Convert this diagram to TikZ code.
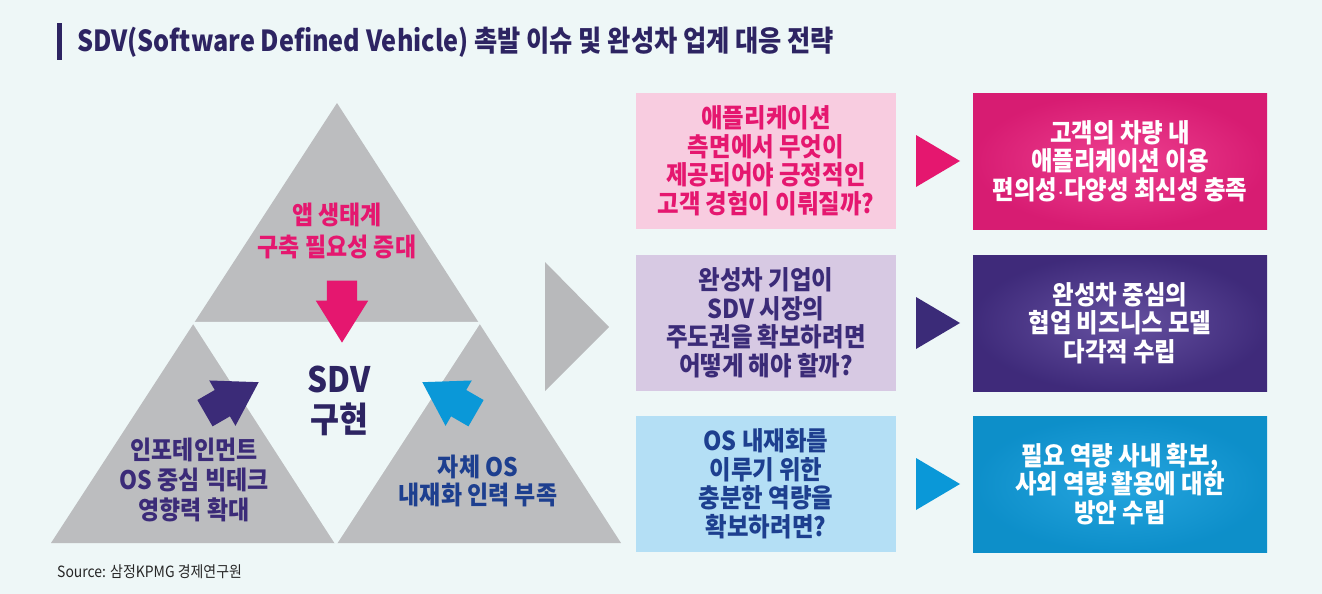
\documentclass[tikz,border=0pt]{standalone}
\usepackage{fontspec}
\setmainfont{Noto Sans CJK KR}[FakeStretch=0.9]
\newfontfamily\titlefont{Noto Sans CJK KR}[FakeStretch=0.87]
\usetikzlibrary{shapes.arrows, calc, positioning}

\definecolor{bgc}{HTML}{EEF7F7}
\definecolor{navy}{HTML}{2D2462}
\definecolor{greyT}{HTML}{BCBDBF}
\definecolor{greyA}{HTML}{B8B9BB}
\definecolor{pinkL}{HTML}{F8CCE0}
\definecolor{pinkD}{HTML}{E5176F}
\definecolor{pinkB}{HTML}{EA1E7C}
\definecolor{lavL}{HTML}{D7C9E3}
\definecolor{purpD}{HTML}{3B2B78}
\definecolor{purpB}{HTML}{4A3290}
\definecolor{blueL}{HTML}{B4DFF5}
\definecolor{blueT}{HTML}{1D3F8F}
\definecolor{blueD}{HTML}{0A98D8}
\definecolor{blueB}{HTML}{0E9BDB}

\newcommand\boxfont{\bfseries\fontsize{26}{28.5}\selectfont}

\begin{document}
\begin{tikzpicture}[x=1pt, y=-1pt,
    qbox/.style={rectangle, minimum width=260pt, minimum height=136pt, inner sep=0pt, outer sep=0pt, align=center, font=\boxfont},
    abox/.style={rectangle, minimum width=294pt, minimum height=136pt, inner sep=0pt, outer sep=0pt, align=center, text=white, font=\boxfont},
    tritxt/.style={align=center, inner sep=0pt, font=\bfseries\fontsize{25.5}{#1}\selectfont},
    fatarrow/.style={single arrow, inner sep=0pt, text height=30pt, text depth=0pt, text width=0pt, minimum height=62pt, single arrow head extend=11pt, single arrow tip angle=64, anchor=tip}]

\useasboundingbox (0,0) rectangle (1322,594);
\fill[bgc] (0,0) rectangle (1322,594);

% Title
\fill[navy] (57,23) rectangle (62,60);
\node[anchor=west, inner sep=0pt, text=navy, font=\titlefont\bfseries\fontsize{29}{32}\selectfont] (title) at (77,42) {SDV(Software Defined Vehicle) 촉발 이슈 및 완성차 업계 대응 전략};

% Triangle split in three
\coordinate (T) at (337,103);
\coordinate (L) at (51,543);
\coordinate (R) at (621,543);
\coordinate (mL) at ($(T)!0.5!(L)$);
\coordinate (mR) at ($(T)!0.5!(R)$);
\coordinate (mB) at ($(L)!0.5!(R)$);
\fill[greyT] (T) -- (L) -- (R) -- cycle;
\filldraw[fill=bgc, draw=bgc, line width=2.5pt] (mL) -- (mR) -- (mB) -- cycle;

\node[tritxt=32, text=pinkD] (topTxt) at (337,231) {앱 생태계\\구축 필요성 증대};
\node[tritxt=30, text=purpD] (leftTxt) at (194,480) {인포테인먼트\\OS 중심 빅테크\\영향력 확대};
\node[tritxt=28, text=blueT] (rightTxt) at (478,481) {자체 OS\\내재화 인력 부족};
\node[align=center, inner sep=0pt, text=navy, font=\bfseries\fontsize{35}{40}\selectfont] (sdv) at (339,401) {SDV\\구현};

% Arrows into the centre
\node[fatarrow, fill=pinkD, rotate=-90] (pA) at (342,343) {};
\node[fatarrow, fill=purpD, rotate=30] (vA) at (259,382) {};
\node[fatarrow, fill=blueD, rotate=150] (bA) at (422,382) {};

% Grey pointer
\fill[greyA] (545,262) -- (609,327) -- (545,391) -- cycle;

% Questions and answers
\node[qbox, fill=pinkL, text=pinkD] (q1) at (766,161) {애플리케이션\\측면에서 무엇이\\제공되어야 긍정적인\\고객 경험이 이뤄질까?};
\node[qbox, fill=lavL, text=purpD, below=26pt of q1] (q2) {완성차 기업이\\SDV 시장의\\주도권을 확보하려면\\어떻게 해야 할까?};
\node[qbox, fill=blueL, text=blueT, below=25pt of q2] (q3) {OS 내재화를\\이루기 위한\\충분한 역량을\\확보하려면?};

\node[abox, shade, inner color=pinkB!85!white, outer color=pinkB!92!black, right=77pt of q1] (a1) {고객의 차량 내\\애플리케이션 이용\\편의성$\cdot$다양성 최신성 충족};
\node[abox, shade, inner color=purpB!85!white, outer color=purpB!85!black, right=77pt of q2] (a2) {완성차 중심의\\협업 비즈니스 모델\\다각적 수립};
\node[abox, shade, inner color=blueB!90!white, outer color=blueB!92!black, right=77pt of q3] (a3) {필요 역량 사내 확보,\\사외 역량 활용에 대한\\방안 수립};

\foreach \i/\c in {1/pinkD, 2/purpD, 3/blueD}
  \fill[\c] ($(q\i.east)+(20,-26)$) -- ++(44,26) -- ++(-44,26) -- cycle;

% Source
\node[anchor=west, inner sep=0pt, text=black!85, font=\fontsize{15.5}{18}\selectfont] (src) at (57,572) {Source: 삼정KPMG 경제연구원};

\end{tikzpicture}
\end{document}
